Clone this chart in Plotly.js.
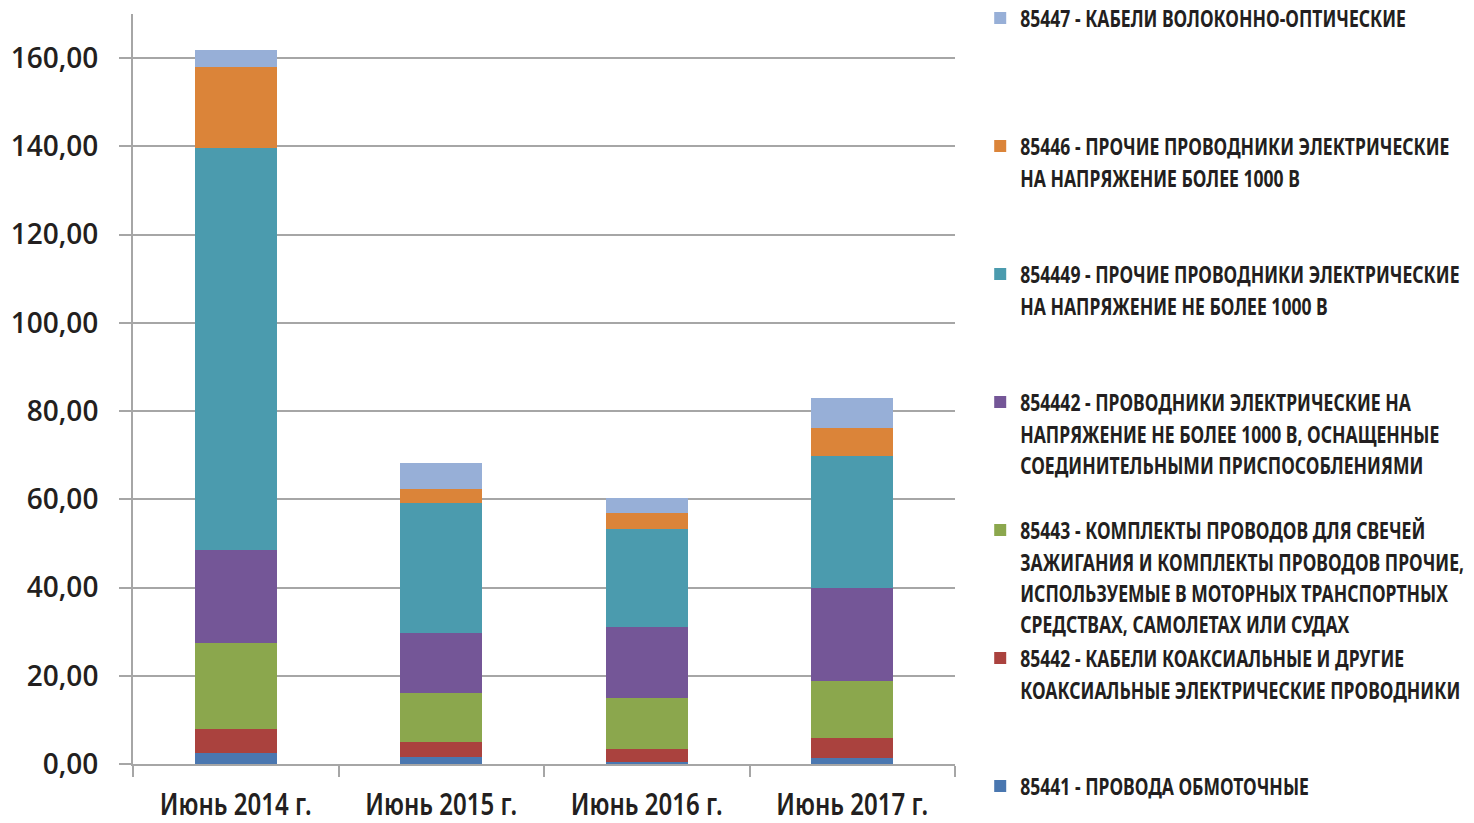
<!DOCTYPE html>
<html><head><meta charset="utf-8">
<script src="https://cdn.plot.ly/plotly-3.0.1.min.js"></script>
<style>
html,body{margin:0;padding:0;background:#fff}#chart{width:1474px;height:823px}
</style>
</head><body><div id="chart"></div>
<script>
const categories = ["Июнь 2014 г.", "Июнь 2015 г.", "Июнь 2016 г.", "Июнь 2017 г."];
const s85441  = [2.6, 1.6, 0.5, 1.3];
const s85442  = [5.3, 3.4, 3.0, 4.7];
const s85443  = [19.5, 11.2, 11.5, 12.9];
const s854442 = [21.2, 13.4, 16.0, 21.1];
const s854449 = [91.0, 29.6, 22.3, 29.8];
const s85446  = [18.4, 3.2, 3.5, 6.4];
const s85447  = [3.9, 5.9, 3.4, 6.7];
const seriesNames = [
  "85441 - ПРОВОДА ОБМОТОЧНЫЕ",
  "85442 - КАБЕЛИ КОАКСИАЛЬНЫЕ И ДРУГИЕ<br>КОАКСИАЛЬНЫЕ ЭЛЕКТРИЧЕСКИЕ ПРОВОДНИКИ",
  "85443 - КОМПЛЕКТЫ ПРОВОДОВ ДЛЯ СВЕЧЕЙ<br>ЗАЖИГАНИЯ И КОМПЛЕКТЫ ПРОВОДОВ ПРОЧИЕ,<br>ИСПОЛЬЗУЕМЫЕ В МОТОРНЫХ ТРАНСПОРТНЫХ<br>СРЕДСТВАХ, САМОЛЕТАХ ИЛИ СУДАХ",
  "854442 - ПРОВОДНИКИ ЭЛЕКТРИЧЕСКИЕ НА<br>НАПРЯЖЕНИЕ НЕ БОЛЕЕ 1000 В, ОСНАЩЕННЫЕ<br>СОЕДИНИТЕЛЬНЫМИ ПРИСПОСОБЛЕНИЯМИ",
  "854449 - ПРОЧИЕ ПРОВОДНИКИ ЭЛЕКТРИЧЕСКИЕ<br>НА НАПРЯЖЕНИЕ НЕ БОЛЕЕ 1000 В",
  "85446 - ПРОЧИЕ ПРОВОДНИКИ ЭЛЕКТРИЧЕСКИЕ<br>НА НАПРЯЖЕНИЕ БОЛЕЕ 1000 В",
  "85447 - КАБЕЛИ ВОЛОКОННО-ОПТИЧЕСКИЕ"
];
const seriesValues = [s85441, s85442, s85443, s854442, s854449, s85446, s85447];
const seriesColors = ["#4a77b0", "#aa423e", "#8ba74d", "#745697", "#4b9bae", "#db8439", "#97afd7"];

function padLines(t, n) {
  const k = t.split("<br>").length;
  let out = t;
  for (let i = k; i < n; i++) out += "<br>\u00a0";
  return out;
}

const traces = seriesValues.map((v, i) => ({
  type: "bar",
  x: categories,
  y: v,
  name: padLines(seriesNames[i], i === 0 ? 1 : 4),
  legendgroup: "g" + i,
  legendrank: 100 - i,
  marker: {color: seriesColors[i], line: {width: 0}},
  hoverinfo: "y+name"
}));

const gridCol = "#a6a6a6";
const textFont = "'Noto Sans', 'Open Sans', sans-serif";
const layout = {
  width: 1474, height: 823,
  margin: {l: 133, r: 519, t: 14, b: 59},
  paper_bgcolor: "#fff", plot_bgcolor: "#fff",
  barmode: "stack",
  bargap: 0.6,
  separators: ", ",
  font: {family: "'Open Sans', sans-serif", color: "#231f20"},
  xaxis: {
    type: "category",
    showline: true, linecolor: gridCol, linewidth: 2,
    ticks: "outside", tickson: "boundaries", ticklen: 11, tickwidth: 2, tickcolor: gridCol,
    tickangle: 0,
    ticklabelstandoff: 13,
    tickfont: {family: textFont, size: 30, weight: 600, color: "#231f20"},
    showgrid: false, zeroline: false
  },
  yaxis: {
    range: [0, 170],
    tickvals: [0, 20, 40, 60, 80, 100, 120, 140, 160],
    tickformat: ".2f",
    showline: true, linecolor: gridCol, linewidth: 2,
    ticks: "outside", ticklen: 12, tickwidth: 2, tickcolor: gridCol,
    ticklabelstandoff: 15,
    showgrid: true, gridcolor: gridCol, gridwidth: 2,
    zeroline: false,
    tickfont: {family: "'Open Sans', sans-serif", size: 28, weight: 600, color: "#231f20"}
  },
  showlegend: true,
  legend: {
    xref: "container", yref: "container",
    x: 0.665, xanchor: "left",
    y: 1, yanchor: "top",
    maxheight: 1000,
    traceorder: "grouped",
    tracegroupgap: 0.2,
    valign: "top",
    itemwidth: 30,
    font: {family: textFont, size: 24, weight: 700, color: "#231f20"},
    bgcolor: "rgba(0,0,0,0)"
  }
};

// horizontally condense text (reference uses a condensed typeface)
function condenseGroup(nodes, refNode, targetWidth) {
  if (!refNode) return;
  const w = refNode.getBBox().width;
  if (!w) return;
  const f = Math.min(1, targetWidth / w);
  nodes.forEach(el => {
    const b = el.getBBox();
    const anchor = el.getAttribute("text-anchor");
    const cx = anchor === "middle" ? b.x + b.width / 2 : b.x;
    const prev = el.getAttribute("transform") || "";
    el.setAttribute("transform", prev + ` translate(${cx},0) scale(${f},1) translate(${-cx},0)`);
  });
}

Plotly.newPlot("chart", traces, layout, {displayModeBar: false, responsive: false}).then(gd => {
  const leg = Array.from(gd.querySelectorAll(".legendtext"));
  const legRef = leg.find(t => t.textContent.indexOf("85447") === 0);
  condenseGroup(leg, legRef, 386);
  const xt = Array.from(gd.querySelectorAll(".xtick text"));
  condenseGroup(xt, xt[0], 152);
  const lg = gd.querySelector("g.legend");
  if (lg) lg.setAttribute("transform", (lg.getAttribute("transform") || "") + " translate(0,-4)");
});
</script>
</body></html>
